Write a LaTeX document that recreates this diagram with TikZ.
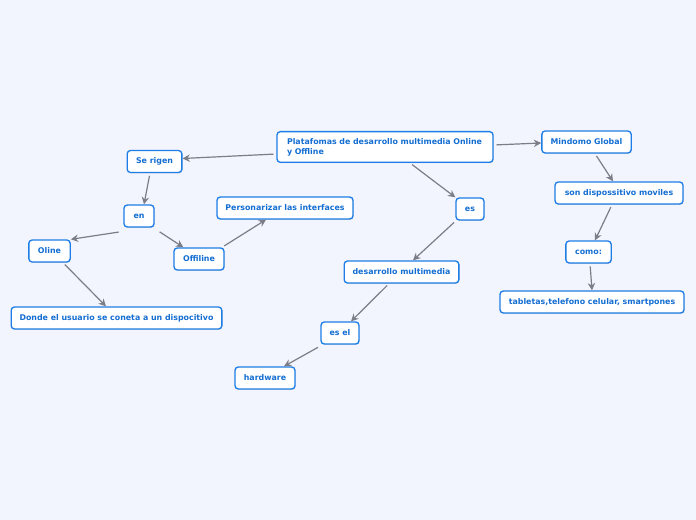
\documentclass[tikz,border=0pt]{standalone}
\usepackage{fontspec}
\setmainfont{DejaVu Sans}
\usetikzlibrary{arrows.meta}
\usetikzlibrary{shadows}

\definecolor{bgblue}{RGB}{242,245,253}
\definecolor{boxblue}{RGB}{30,125,230}
\definecolor{txtblue}{RGB}{20,110,210}
\definecolor{linegray}{RGB}{125,125,135}

\tikzset{
  topic/.style={draw=boxblue, line width=1pt, fill=white, rounded corners=2.5pt,
    text=txtblue, font=\fontsize{5.9}{7.5}\selectfont\bfseries, inner sep=2pt,
    drop shadow={shadow xshift=0.5pt, shadow yshift=-0.6pt, opacity=0.25}},
  link/.style={draw=linegray, line width=0.9pt, -{Stealth[length=5.5pt,width=5.5pt]},
    shorten <=2pt, shorten >=0pt}
}

\begin{document}
\begin{tikzpicture}[x=0.75pt, y=-0.75pt]
    \fill[bgblue] (0, 0) rectangle (696, 520);
    \useasboundingbox (0, 0) rectangle (696, 520);

    % centre et branche gauche
    \node[topic, minimum width=162pt, minimum height=23pt, inner xsep=7.5pt, text width=147pt, align=left] (plat) at (385, 147)
      {Platafomas de desarrollo multimedia Online\\y Offline};
    \node[topic, minimum width=41pt, minimum height=16.5pt] (rigen) at (154.5, 161.5) {Se rigen};
    \node[topic, minimum width=22.5pt, minimum height=16.5pt] (en) at (139, 216) {en};
    \node[topic, minimum width=31pt, minimum height=16.5pt] (oline) at (49.5, 251) {Oline};
    \node[topic, minimum width=37.5pt, minimum height=16.5pt] (offiline) at (199, 259) {Offiline};
    \node[topic, minimum width=102pt, minimum height=16.5pt] (person) at (285, 208) {Personarizar las interfaces};
    \node[topic, minimum width=158pt, minimum height=16.5pt] (donde) at (116.5, 318) {Donde el usuario se coneta a un dispocitivo};

    % rama central
    \node[topic, minimum width=21pt, minimum height=16.5pt] (es) at (470, 209) {es};
    \node[topic, minimum width=86pt, minimum height=16.5pt] (desmul) at (401.5, 272) {desarrollo multimedia};
    \node[topic, minimum width=28.5pt, minimum height=16.5pt] (esel) at (340, 333) {es el};
    \node[topic, minimum width=45pt, minimum height=16.5pt] (hard) at (265, 378) {hardware};

    % rama derecha
    \node[topic, minimum width=67pt, minimum height=16.5pt] (mindomo) at (586.5, 142) {Mindomo Global};
    \node[topic, minimum width=96pt, minimum height=16.5pt] (moviles) at (619, 193) {son dispossitivo moviles};
    \node[topic, minimum width=34pt, minimum height=16.5pt] (como) at (588.5, 252) {como:};
    \node[topic, minimum width=138pt, minimum height=16.5pt] (tablet) at (592, 302) {tabletas,telefono celular, smartpones};

    % conectores
    \draw[link] (plat.west |- 0, 154) -- (rigen.east |- 0, 158.5);
    \draw[link] (rigen.south -| 150, 0) -- (en.north -| 144, 0);
    \draw[link] ([xshift=-1.5pt, yshift=-3pt]en.south west) -- (oline.north east);
    \draw[link] ([xshift=2pt, yshift=-2pt]en.south east) -- ([xshift=7.5pt]offiline.north west);
    \draw[link] ([xshift=-2pt]offiline.north east) -- (person.south -| 266, 0);
    \draw[link] (oline.south -| 63, 0) -- (donde.north -| 106, 0);
    \draw[link] (plat.south -| 410, 0) -- (es.north west);
    \draw[link] (es.south -| 456, 0) -- (desmul.north -| 413, 0);
    \draw[link] (desmul.south -| 389, 0) -- (esel.north -| 351, 0);
    \draw[link] ([yshift=-1pt]esel.south west) -- (hard.north -| 284, 0);
    \draw[link] (plat.east |- 0, 145) -- (mindomo.west |- 0, 143);
    \draw[link] (mindomo.south -| 595, 0) -- (moviles.north -| 613, 0);
    \draw[link] (moviles.south -| 612, 0) -- (como.north -| 595, 0);
    \draw[link] (como.south -| 590, 0) -- (tablet.north -| 592, 0);
\end{tikzpicture}
\end{document}
